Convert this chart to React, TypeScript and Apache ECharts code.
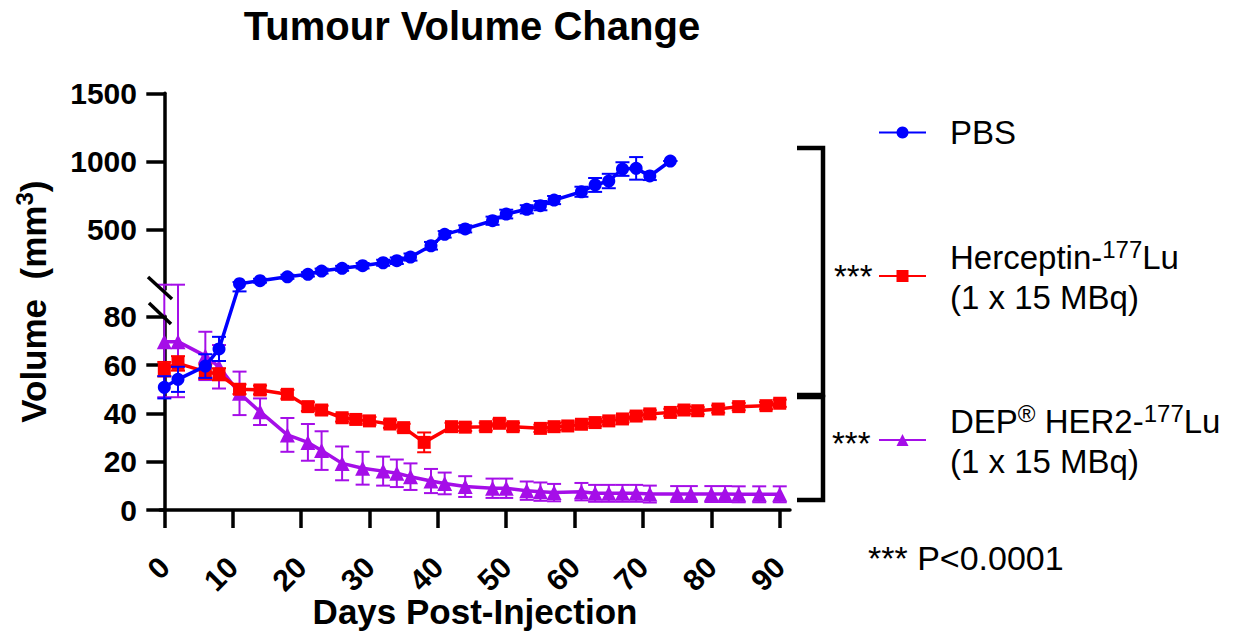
import React, { useEffect, useRef } from 'react';
import * as echarts from 'echarts';

// ---------------- Data ----------------
const xTickValues = [0, 10, 20, 30, 40, 50, 60, 70, 80, 90];
const lowerTickValues = [0, 20, 40, 60, 80];
const upperTickValues = [500, 1000, 1500];

const pbsDays = [0, 2, 6, 8, 11, 14, 18, 21, 23, 26, 29, 32, 34, 36, 39, 41, 44, 48, 50, 53, 55, 57, 61, 63, 65, 67, 69, 71, 74];
const pbsMean = [50.8, 54.1, 59.6, 66.7, 100, 122, 151, 169, 193, 213, 232, 254, 269, 296, 379, 463, 503, 563, 612, 647, 674, 715, 776, 826, 855, 943, 948, 892, 1002];
const pbsSem = [4.6, 5.2, 4.9, 5.0, 12, 14, 15, 16, 18, 18, 20, 22, 24, 26, 28, 24, 26, 30, 32, 30, 34, 30, 37, 51, 53, 50, 83, 30, 0];

const herDays = [0, 2, 6, 8, 11, 14, 18, 21, 23, 26, 28, 30, 33, 35, 38, 42, 44, 47, 49, 51, 55, 57, 59, 61, 63, 65, 67, 69, 71, 74, 76, 78, 81, 84, 88, 90];
const herMean = [58.3, 60.7, 57.3, 56.2, 50.0, 49.7, 47.9, 42.8, 41.4, 38.2, 37.5, 36.9, 35.6, 34.1, 28.0, 34.5, 34.3, 34.5, 35.9, 34.5, 33.8, 34.5, 34.8, 35.5, 36.2, 36.9, 37.7, 38.9, 39.8, 40.4, 41.4, 41.1, 41.8, 42.8, 43.2, 44.2];
const herSem = [3.0, 3.0, 3.0, 2.5, 2.0, 1.8, 1.8, 1.8, 1.8, 1.6, 1.6, 1.6, 1.6, 1.6, 4.1, 1.6, 1.6, 1.6, 1.6, 1.6, 1.5, 1.5, 1.5, 1.5, 1.5, 1.5, 1.5, 1.5, 1.5, 1.5, 1.5, 1.5, 1.5, 1.5, 1.5, 1.5];

const depDays = [0, 2, 6, 8, 11, 14, 18, 21, 23, 26, 29, 32, 34, 36, 39, 41, 44, 48, 50, 53, 55, 57, 61, 63, 65, 67, 69, 71, 75, 77, 80, 82, 84, 87, 90];
const depMean = [69.7, 69.7, 63.8, 59.3, 48.3, 40.7, 31.1, 28.0, 24.6, 19.3, 17.3, 16.1, 15.2, 13.8, 12.0, 11.0, 9.7, 9.0, 9.0, 8.0, 7.6, 7.2, 7.6, 6.9, 6.9, 6.9, 6.9, 6.6, 6.6, 6.6, 6.6, 6.6, 6.5, 6.5, 6.5];
const depSem = [23, 23, 10, 9, 9, 5.5, 7, 7.6, 8, 7, 6.8, 6, 5.7, 5.5, 5, 4.5, 4.3, 4, 4, 3.8, 3.8, 3.6, 3.6, 3.5, 3.5, 3.5, 3.5, 3.5, 3.3, 3.3, 3.3, 3.3, 3.3, 3.3, 3.3];

// ---------------- Broken-axis mapping ----------------
// lower segment 0..80 linear; short bridge 80..90; upper segment (90..1500) compressed
const LOWER_END = 80;
const BRIDGE_END = 90;
const BRIDGE_SLOPE = 1.314;
const UPPER_SLOPE = 0.05631;
const BRIDGE_TOP = LOWER_END + (BRIDGE_END - LOWER_END) * BRIDGE_SLOPE;
function toDisplay(v: number): number {
  if (v <= LOWER_END) return v;
  if (v <= BRIDGE_END) return LOWER_END + (v - LOWER_END) * BRIDGE_SLOPE;
  return BRIDGE_TOP + (v - BRIDGE_END) * UPPER_SLOPE;
}
const Y_MAX = toDisplay(1500);

const FONT = '"Liberation Sans", Arial, Helvetica, sans-serif';
const BLUE = '#0000FF';
const RED = '#FF0000';
const PURPLE = '#A50EE8';

function errRender(color: string) {
  return (params: any, api: any) => {
    const x = api.value(0);
    const lo = api.coord([x, api.value(1)]);
    const hi = api.coord([x, api.value(2)]);
    const w = 7;
    const style = { stroke: color, lineWidth: 2 };
    return {
      type: 'group',
      children: [
        { type: 'line', shape: { x1: lo[0], y1: lo[1], x2: hi[0], y2: hi[1] }, style },
        { type: 'line', shape: { x1: hi[0] - w, y1: hi[1], x2: hi[0] + w, y2: hi[1] }, style },
        { type: 'line', shape: { x1: lo[0] - w, y1: lo[1], x2: lo[0] + w, y2: lo[1] }, style },
      ],
    };
  };
}

function errData(days: number[], mean: number[], sem: number[]) {
  return days.map((d, i) => [d, toDisplay(mean[i] - sem[i]), toDisplay(mean[i] + sem[i])]);
}
function lineData(days: number[], mean: number[]) {
  return days.map((d, i) => [d, toDisplay(mean[i])]);
}

const axisLineStyle = { color: '#000', width: 3.5 };
const tickLabelStyle = {
  fontFamily: FONT,
  fontSize: 30,
  fontWeight: 'bold' as const,
  color: '#000',
  formatter: (v: number) => String(v),
};

const legendRich = {
  a: { fontFamily: FONT, fontSize: 33, color: '#000', lineHeight: 40 },
  s: { fontFamily: FONT, fontSize: 24, color: '#000', lineHeight: 14, verticalAlign: 'top' },
};

const legendLabels: Record<string, string> = {
  PBS: '{a|PBS}',
  Herceptin: '{a|Herceptin-}{s|177}{a|Lu}\n{a|(1 x 15 MBq)}',
  DEP: '{a|DEP}{s|®}{a| HER2-}{s|177}{a|Lu}\n{a|(1 x 15 MBq)}',
};

function makeLegend(name: string, top: number, multi: boolean) {
  return {
    data: [name],
    left: 878,
    top,
    orient: 'vertical',
    padding: 0,
    itemWidth: 47,
    itemHeight: 15,
    selectedMode: false,
    formatter: (n: string) => legendLabels[n],
    textStyle: {
      fontFamily: FONT,
      fontSize: 33,
      color: '#000',
      padding: multi ? [2, 0, 0, 19] : [0, 0, 0, 19],
      rich: legendRich,
    },
  };
}

const gridBase = { outerBoundsMode: 'none', containLabel: false };

export default function App() {
  const ref = useRef<HTMLDivElement>(null);
  useEffect(() => {
    if (!ref.current) return;
    const chart = echarts.init(ref.current, null, { renderer: 'svg' });
    const option: any = {
      animation: false,
      backgroundColor: '#fff',
      title: {
        text: 'Tumour Volume Change',
        left: 472,
        top: 6,
        padding: 0,
        textAlign: 'center',
        textStyle: { fontFamily: FONT, fontSize: 40, fontWeight: 'bold', color: '#000' },
      },
      legend: [
        makeLegend('PBS', 116, false),
        makeLegend('Herceptin', 237, true),
        makeLegend('DEP', 401, true),
      ],
      grid: [
        { ...gridBase, left: 160, top: 93.3, width: 630, height: 416.7 },
        { ...gridBase, left: 160, top: 316.3, width: 630, height: 193.7 },
        { ...gridBase, left: 160, top: 93.3, width: 630, height: 195.84 },
      ],
      xAxis: [
        {
          gridIndex: 0,
          type: 'value',
          min: -0.63,
          max: 91.5,
          axisLine: { show: true, onZero: false, lineStyle: axisLineStyle },
          axisTick: { show: true, customValues: xTickValues, length: 18, lineStyle: axisLineStyle },
          axisLabel: { customValues: xTickValues, rotate: 45, margin: 52, ...tickLabelStyle },
          splitLine: { show: false },
          name: 'Days Post-Injection',
          nameLocation: 'middle',
          nameMoveOverlap: false,
          nameGap: 84,
          nameTextStyle: { fontFamily: FONT, fontSize: 35, fontWeight: 'bold', color: '#000' },
        },
        { gridIndex: 1, type: 'value', min: -0.63, max: 91.5, show: false },
        { gridIndex: 2, type: 'value', min: -0.63, max: 91.5, show: false },
      ],
      yAxis: [
        {
          gridIndex: 0,
          type: 'value',
          min: 0,
          max: Y_MAX,
          axisLine: { show: false },
          axisTick: { show: false },
          axisLabel: { show: false },
          splitLine: { show: false },
          name: '{b|Volume  (mm}{s|3}{b|)}',
          nameLocation: 'middle',
          nameMoveOverlap: false,
          nameRotate: 90,
          nameGap: 106,
          nameTextStyle: {
            rich: {
              b: { fontFamily: FONT, fontSize: 35, fontWeight: 'bold', color: '#000', lineHeight: 42 },
              s: { fontFamily: FONT, fontSize: 24, fontWeight: 'bold', color: '#000', lineHeight: 14, verticalAlign: 'top' },
            },
          },
        },
        {
          gridIndex: 1,
          type: 'value',
          min: 0,
          max: 80.2,
          interval: 20,
          axisLine: { show: true, lineStyle: axisLineStyle },
          axisTick: { show: true, customValues: lowerTickValues, length: 18, lineStyle: axisLineStyle },
          axisLabel: { customValues: lowerTickValues, margin: 23, ...tickLabelStyle },
          splitLine: { show: false },
        },
        {
          gridIndex: 2,
          type: 'value',
          min: 60,
          max: 1500,
          axisLine: { show: true, lineStyle: axisLineStyle },
          axisTick: { show: true, customValues: upperTickValues, length: 18, lineStyle: axisLineStyle },
          axisLabel: { customValues: upperTickValues, margin: 23, ...tickLabelStyle },
          splitLine: { show: false },
        },
      ],
      series: [
        {
          type: 'custom',
          name: 'DEP-err',
          xAxisIndex: 0,
          yAxisIndex: 0,
          silent: true,
          z: 2,
          renderItem: errRender(PURPLE),
          encode: { x: 0, y: [1, 2] },
          data: errData(depDays, depMean, depSem),
        },
        {
          type: 'line',
          name: 'DEP',
          xAxisIndex: 0,
          yAxisIndex: 0,
          z: 2,
          symbol: 'triangle',
          symbolSize: 15,
          lineStyle: { color: PURPLE, width: 3.5 },
          itemStyle: { color: PURPLE },
          data: lineData(depDays, depMean),
        },
        {
          type: 'custom',
          name: 'Herceptin-err',
          xAxisIndex: 0,
          yAxisIndex: 0,
          silent: true,
          z: 3,
          renderItem: errRender(RED),
          encode: { x: 0, y: [1, 2] },
          data: errData(herDays, herMean, herSem),
        },
        {
          type: 'line',
          name: 'Herceptin',
          xAxisIndex: 0,
          yAxisIndex: 0,
          z: 3,
          symbol: 'rect',
          symbolSize: 13,
          lineStyle: { color: RED, width: 3.5 },
          itemStyle: { color: RED },
          data: lineData(herDays, herMean),
        },
        {
          type: 'custom',
          name: 'PBS-err',
          xAxisIndex: 0,
          yAxisIndex: 0,
          silent: true,
          z: 4,
          renderItem: errRender(BLUE),
          encode: { x: 0, y: [1, 2] },
          data: errData(pbsDays, pbsMean, pbsSem),
        },
        {
          type: 'line',
          name: 'PBS',
          xAxisIndex: 0,
          yAxisIndex: 0,
          z: 4,
          symbol: 'circle',
          symbolSize: 13,
          lineStyle: { color: BLUE, width: 3.5 },
          itemStyle: { color: BLUE },
          data: lineData(pbsDays, pbsMean),
        },
      ],
      graphic: [
        // axis break marks
        { type: 'line', shape: { x1: 148, y1: 277, x2: 172, y2: 299 }, style: { stroke: '#000', lineWidth: 3.5 }, z: 10 },
        { type: 'line', shape: { x1: 149, y1: 303, x2: 171, y2: 324 }, style: { stroke: '#000', lineWidth: 3.5 }, z: 10 },
        // significance brackets
        { type: 'polyline', shape: { points: [[797, 148], [823, 148], [823, 395], [797, 395]] }, style: { stroke: '#000', lineWidth: 4.5, fill: 'none' } },
        { type: 'polyline', shape: { points: [[797, 397], [823, 397], [823, 500], [797, 500]] }, style: { stroke: '#000', lineWidth: 4.5, fill: 'none' } },
        { type: 'text', style: { text: '***', x: 834, y: 276, fontFamily: FONT, fontSize: 33, fill: '#000', align: 'left', verticalAlign: 'middle' } },
        { type: 'text', style: { text: '***', x: 832, y: 443, fontFamily: FONT, fontSize: 33, fill: '#000', align: 'left', verticalAlign: 'middle' } },
        { type: 'text', style: { text: '*** P<0.0001', x: 868, y: 558, fontFamily: FONT, fontSize: 34, fill: '#000', align: 'left', verticalAlign: 'middle' } },
      ],
    };
    chart.setOption(option);
    return () => chart.dispose();
  }, []);
  return (
    <div
      ref={ref}
      style={{ position: 'absolute', left: 0, top: 0, width: 1240, height: 633, background: '#fff' }}
    />
  );
}
